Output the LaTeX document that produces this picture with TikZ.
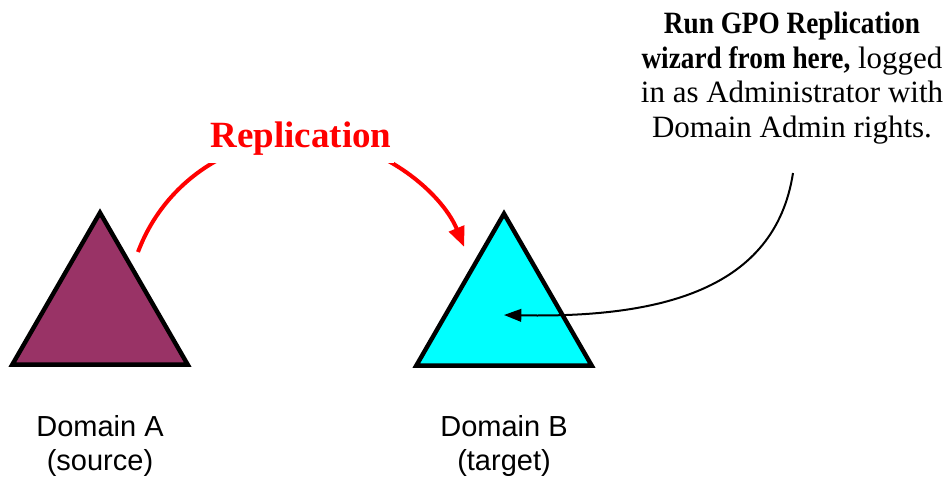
\documentclass[tikz,border=0pt]{standalone}
\usepackage{fontspec}
\setmainfont{Liberation Serif}
\newfontfamily\labelfont{Liberation Sans}
\newfontfamily\notefont{Liberation Serif}[BoldFeatures={FakeStretch=0.88}]
\usetikzlibrary{shapes.geometric,arrows.meta}
\definecolor{domainpurple}{HTML}{993366}
\definecolor{domaincyan}{HTML}{00FFFF}
\tikzset{
  domaintri/.style={regular polygon, regular polygon sides=3, draw=black,
    line width=3.3pt, minimum size=152pt, inner sep=0pt},
  domainlabel/.style={font=\labelfont\fontsize{21.75pt}{25.5pt}\selectfont,
    align=center, inner sep=0pt, anchor=north},
  replarrow/.style={draw=red, line width=3pt, -{Triangle[length=15pt,width=12pt]}},
  notearrow/.style={draw=black, line width=1.5pt, -{Triangle[length=13pt,width=9.5pt]}},
  repltext/.style={text=red, font=\bfseries\fontsize{27.75pt}{30pt}\selectfont,
    fill=white, inner xsep=2pt, inner ysep=6pt, anchor=base},
  notetext/.style={font=\notefont\fontsize{23.25pt}{25.9pt}\selectfont, align=center,
    inner sep=0pt, anchor=north}
}
\begin{document}
\begin{tikzpicture}[x=0.75pt, y=-0.75pt]
  \useasboundingbox (0,0) rectangle (951,476);

  % the two domains
  \node[domaintri, fill=domainpurple] (A) at (100,314) {};
  \node[domaintri, fill=domaincyan] (B) at (504,315) {};

  \node[domainlabel] (labA) at (100,415) {Domain A\\(source)};
  \node[domainlabel] (labB) at (504,415) {Domain B\\(target)};

  % replication arc from A over to B
  \coordinate (replStart) at (138,252);
  \draw[replarrow] (replStart) arc[start angle=200.6, end angle=337.6, radius=175.3];
  \node[repltext] (repl) at (301,147) {Replication};

  % note and its pointer into domain B
  \node[notetext] (note) at (792,12)
    {\textbf{Run GPO Replication}\\\textbf{wizard from here,} logged\\in as Administrator with\\Domain Admin rights.};
  \coordinate (noteFoot) at (793,173);
  \draw[notearrow] (noteFoot) .. controls (775,290) and (660,318) .. (B.center);
\end{tikzpicture}
\end{document}
